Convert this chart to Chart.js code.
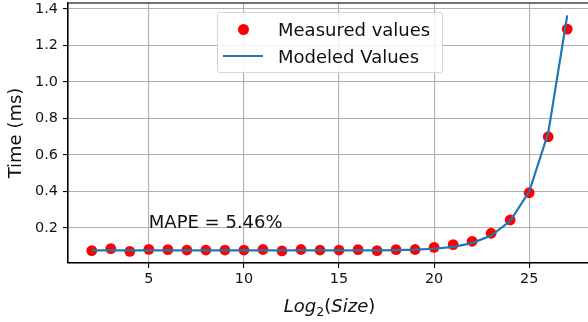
<!DOCTYPE html>
<html>
<head>
<meta charset="utf-8">
<script src="https://cdn.jsdelivr.net/npm/chart.js@4"></script>
<style>
    html, body { margin: 0; padding: 0; background: #fff; overflow: hidden; }
    #wrap { position: relative; width: 592px; height: 322px; overflow: hidden; }
    #timeChart { position: absolute; left: 0; top: 0; width: 592px; height: 322px; }
    .legend-box {
        position: absolute; left: 217px; top: 12px; width: 226px; height: 61px;
        box-sizing: border-box; border: 1px solid #d6d6d6; border-radius: 3px;
        background: rgba(255, 255, 255, 0.85);
    }
    .legend-text {
        position: absolute; left: 278px; font: 18px "DejaVu Sans"; line-height: 21px;
        color: #111; white-space: nowrap;
    }
    .legend-dot {
        position: absolute; left: 237.5px; top: 24px; width: 11px; height: 11px;
        border-radius: 50%; background: #ff0000;
    }
    .legend-line {
        position: absolute; left: 223px; top: 54.6px; width: 40px; height: 2.2px;
        background: #1f77b4;
    }
</style>
</head>
<body>
<div id="wrap">
    <canvas id="timeChart" width="592" height="322"></canvas>
    <div class="legend-box"></div>
    <div class="legend-dot"></div>
    <div class="legend-text" style="top:18.5px">Measured values</div>
    <div class="legend-line"></div>
    <div class="legend-text" style="top:45.5px">Modeled Values</div>
</div>
<script>
// DATA
const log2Size = [2, 3, 4, 5, 6, 7, 8, 9, 10, 11, 12, 13, 14, 15, 16, 17, 18, 19, 20, 21, 22, 23, 24, 25, 26, 27];
const measured = [0.076, 0.087, 0.072, 0.083, 0.081, 0.079, 0.079, 0.079, 0.079, 0.082, 0.074, 0.082, 0.079,
                  0.079, 0.081, 0.076, 0.081, 0.082, 0.094, 0.109, 0.127, 0.171, 0.244, 0.393, 0.700, 1.290];
const modeled  = [0.077, 0.077, 0.077, 0.077, 0.077, 0.077, 0.077, 0.077, 0.077, 0.077, 0.077, 0.077, 0.077,
                  0.077, 0.077, 0.077, 0.079, 0.081, 0.086, 0.096, 0.117, 0.158, 0.238, 0.400, 0.720, 1.365];
const xTicks = [5, 10, 15, 20, 25];
const yTicks = [0.2, 0.4, 0.6, 0.8, 1.0, 1.2, 1.4];
const mapeLabel = "MAPE = 5.46%";
const mapeAt = { x: 5, y: 0.2 };

const FONT = '"DejaVu Sans"';
Chart.defaults.font.family = FONT;
Chart.defaults.color = "#111";

// frame, MAPE note and x label with subscript
const extras = {
    id: "extras",
    afterDraw(chart) {
        const ctx = chart.ctx;
        const a = chart.chartArea;
        const xs = chart.scales.x, ys = chart.scales.y;
        ctx.save();

        ctx.font = "18px " + FONT;
        ctx.fillStyle = "#111";
        ctx.textAlign = "left";
        ctx.textBaseline = "alphabetic";
        ctx.fillText(mapeLabel, xs.getPixelForValue(mapeAt.x), ys.getPixelForValue(mapeAt.y));

        ctx.strokeStyle = "#000";
        ctx.lineWidth = 1.1;
        ctx.strokeRect(a.left, a.top, a.right - a.left, a.bottom - a.top);

        const parts = [
            { t: "Log", f: "italic 18px " + FONT, dy: 0 },
            { t: "2", f: "12.6px " + FONT, dy: 4 },
            { t: "(", f: "18px " + FONT, dy: 0 },
            { t: "Size", f: "italic 18px " + FONT, dy: 0 },
            { t: ")", f: "18px " + FONT, dy: 0 }
        ];
        let total = 0;
        parts.forEach(p => { ctx.font = p.f; p.w = ctx.measureText(p.t).width; total += p.w; });
        let x = (a.left + a.right) / 2 - total / 2;
        const base = 312;
        parts.forEach(p => {
            ctx.font = p.f;
            ctx.fillText(p.t, x, base + p.dy);
            x += p.w;
        });
        ctx.restore();
    }
};

function noPad(s) {
    s.paddingTop = 0; s.paddingBottom = 0; s.paddingLeft = 0; s.paddingRight = 0;
}

const ctx = document.getElementById("timeChart").getContext("2d");

new Chart(ctx, {
    type: "scatter",
    data: {
        datasets: [{
            label: "Measured values",
            data: log2Size.map((v, i) => ({ x: v, y: measured[i] })),
            backgroundColor: "#ff0000",
            borderColor: "#ff0000",
            borderWidth: 0,
            pointRadius: 5.4,
            showLine: false,
            order: 2
        }, {
            label: "Modeled Values",
            type: "line",
            data: log2Size.map((v, i) => ({ x: v, y: modeled[i] })),
            borderColor: "#1f77b4",
            borderWidth: 2.2,
            pointRadius: 0,
            tension: 0,
            fill: false,
            order: 1
        }]
    },
    options: {
        responsive: false,
        animation: false,
        devicePixelRatio: 1,
        layout: { autoPadding: false, padding: { left: 0, top: 3, right: 1, bottom: 0 } },
        plugins: { legend: { display: false }, tooltip: { enabled: false } },
        scales: {
            x: {
                type: "linear",
                min: 0.75,
                max: 28.25,
                afterBuildTicks: s => { s.ticks = xTicks.map(v => ({ value: v })); },
                afterFit: s => { s.height = 59; noPad(s); },
                grid: { color: "#b0b0b0", lineWidth: 1.1, tickLength: 5, tickColor: "#000", tickWidth: 1.1 },
                border: { display: true, color: "#000", width: 1.1 },
                ticks: { font: { size: 14.4 }, padding: 3, maxRotation: 0 }
            },
            y: {
                type: "linear",
                min: 0.008,
                max: 1.433,
                afterBuildTicks: s => { s.ticks = yTicks.map(v => ({ value: v })); },
                afterFit: s => { s.width = 68; noPad(s); },
                grid: { color: "#b0b0b0", lineWidth: 1.1, tickLength: 5, tickColor: "#000", tickWidth: 1.1 },
                border: { display: true, color: "#000", width: 1.1 },
                ticks: { font: { size: 14.4 }, padding: 5, callback: v => v.toFixed(1) },
                title: { display: true, text: "Time (ms)", font: { size: 18 }, padding: { top: 6, bottom: 0 } }
            }
        }
    },
    plugins: [extras]
});
</script>
</body>
</html>
